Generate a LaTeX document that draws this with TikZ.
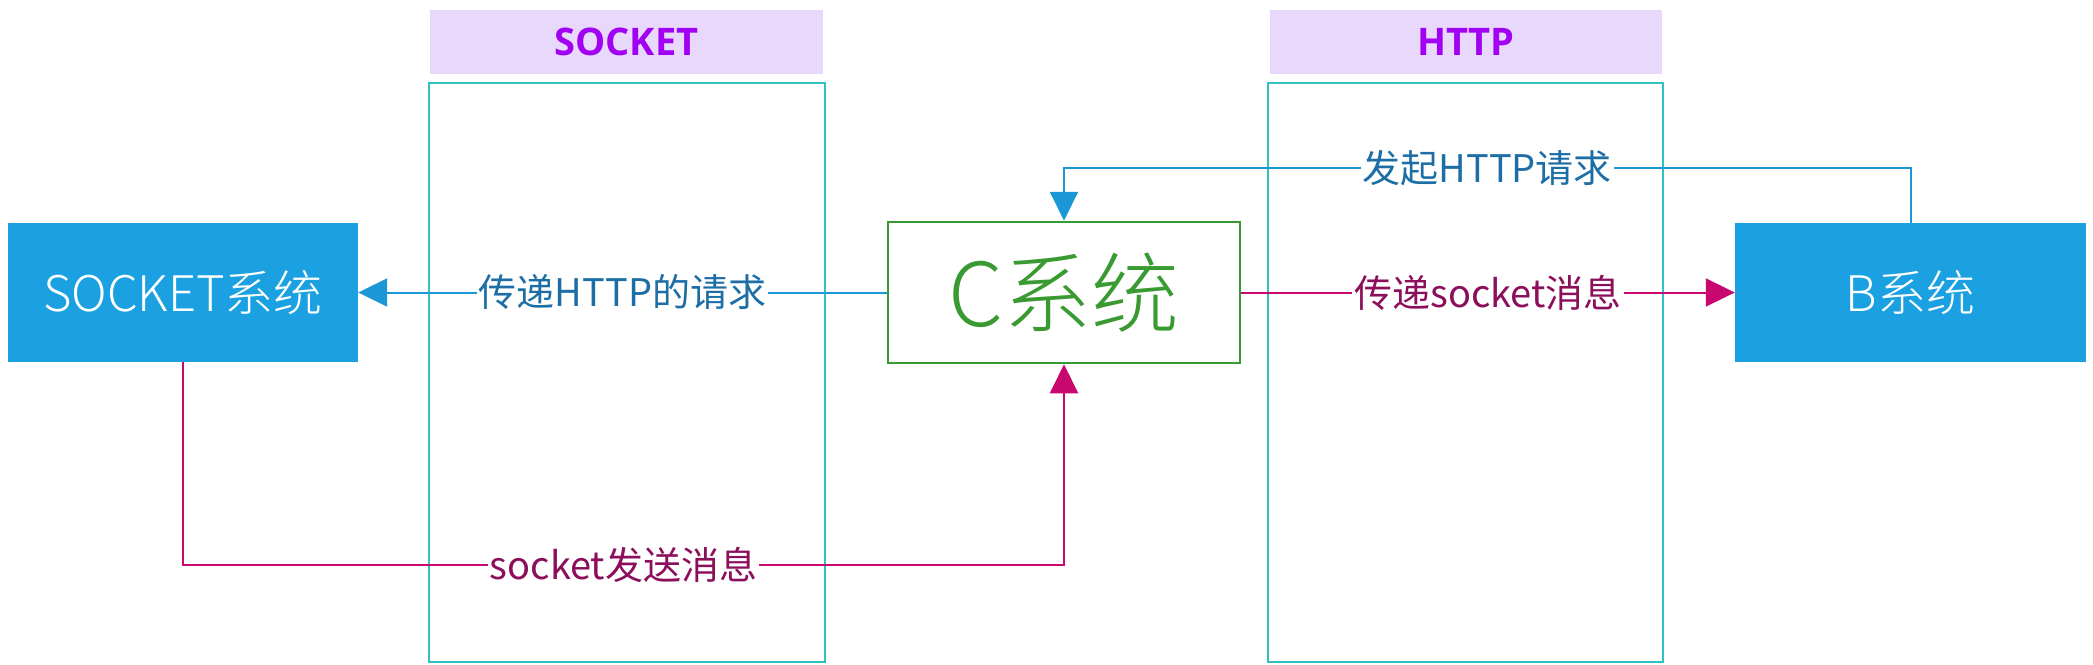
\documentclass[tikz,border=0pt]{standalone}
\usepackage{fontspec}
\setmainfont{Noto Sans CJK SC}
\newfontfamily\lightfont{Noto Sans CJK SC}[UprightFont=* Light]
\newfontfamily\hdrfont{Open Sans}
\usetikzlibrary{arrows.meta}
\definecolor{hdrfill}{HTML}{E8D9FC}
\definecolor{hdrtext}{HTML}{A100F2}
\definecolor{laneline}{HTML}{30C2C2}
\definecolor{sysblue}{HTML}{1BA1E2}
\definecolor{cgreen}{HTML}{3A9A32}
\definecolor{lineblue}{HTML}{1B97D6}
\definecolor{txtblue}{HTML}{1E6EA6}
\definecolor{linered}{HTML}{C8086E}
\definecolor{txtred}{HTML}{8C0F5C}
\tikzset{
  lanebox/.style={draw=laneline, line width=2.5pt, fill=none, inner sep=0pt},
  hdrbox/.style={fill=hdrfill, draw=none, inner sep=0pt, text=hdrtext,
    font=\hdrfont\bfseries\fontsize{38}{40}\selectfont},
  sysbox/.style={fill=sysblue, draw=none, text=white, inner sep=0pt,
    font=\lightfont\fontsize{49}{51}\selectfont},
  cbox/.style={draw=cgreen, line width=2.5pt, fill=white, text=cgreen, inner sep=0pt,
    font=\lightfont\fontsize{88}{90}\selectfont},
  bconn/.style={draw=lineblue, line width=2pt, -{Triangle[length=29pt,width=28pt]}},
  rconn/.style={draw=linered, line width=2pt, -{Triangle[length=29pt,width=28pt]}},
  blbl/.style={fill=white, text=txtblue, inner xsep=2pt, inner ysep=1pt,
    font=\fontsize{38}{40}\selectfont},
  rlbl/.style={fill=white, text=txtred, inner xsep=2pt, inner ysep=1pt,
    font=\fontsize{38}{40}\selectfont}
}
\begin{document}
\begin{tikzpicture}[x=1pt,y=-1pt]
\useasboundingbox (0,0) rectangle (2093,664);
% lanes
\node[lanebox, minimum width=396pt, minimum height=579pt] (lane1) at (627,372.5) {};
\node[hdrbox, minimum width=393pt, minimum height=64pt] (hdr1) at (626.5,42) {SOCKET};
\node[lanebox, minimum width=395pt, minimum height=579pt] (lane2) at (1465.5,372.5) {};
\node[hdrbox, minimum width=392pt, minimum height=64pt] (hdr2) at (1466,42) {HTTP};
% systems
\node[sysbox, minimum width=350pt, minimum height=139pt] (sock) at (183,292.5) {SOCKET系统};
\node[cbox, minimum width=352pt, minimum height=141pt] (c) at (1064,292.5) {C系统};
\node[sysbox, minimum width=351pt, minimum height=139pt] (b) at (1910.5,292.5) {B系统};
% turn coordinates
\coordinate (top) at (1487,168);
\coordinate (bot) at (623,565);
% connectors
\draw[bconn] (c.west) -- node[blbl]{传递HTTP的请求} (sock.east);
\draw[bconn] (b.north) -- (b.north |- top) -- node[blbl]{发起HTTP请求} (c.north |- top) -- (c.north);
\draw[rconn] (c.east) -- node[rlbl]{传递socket消息} (b.west);
\draw[rconn] (sock.south) -- (sock.south |- bot) -- node[rlbl]{socket发送消息} (c.south |- bot) -- (c.south);
\end{tikzpicture}
\end{document}
